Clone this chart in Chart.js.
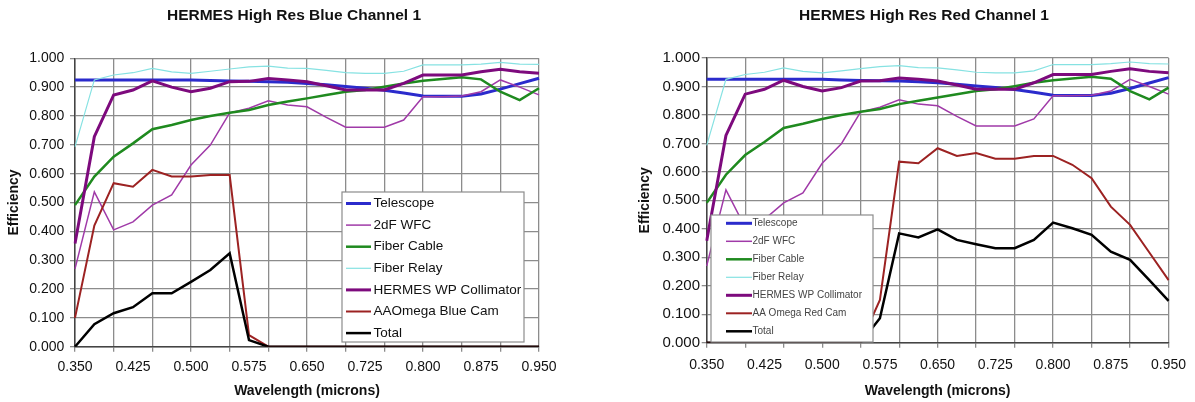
<!DOCTYPE html>
<html>
<head>
<meta charset="utf-8">
<title>HERMES High Res Channel 1</title>
<script src="https://cdn.jsdelivr.net/npm/chart.js@4.4.1/dist/chart.umd.min.js"></script>
<style>
  html, body { margin: 0; padding: 0; background: #fff; }
  #wrap { position: relative; width: 1195px; height: 402px; overflow: hidden; }
  #wrap canvas { position: absolute; top: 0; }
</style>
</head>
<body>
<div id="wrap">
  <canvas id="blueChart" width="597" height="402" style="left:0px"></canvas>
  <canvas id="redChart" width="597" height="402" style="left:598px"></canvas>
</div>
<script>
// Wavelength categories (microns), one point every 0.025
const wavelengths = ['0.350', '0.375', '0.400', '0.425', '0.450', '0.475', '0.500', '0.525', '0.550',
  '0.575', '0.600', '0.625', '0.650', '0.675', '0.700', '0.725', '0.750', '0.775', '0.800',
  '0.825', '0.850', '0.875', '0.900', '0.925', '0.950'];

// Shared optics (same in both channels)
const telescope = [0.925, 0.925, 0.925, 0.925, 0.925, 0.925, 0.925, 0.923, 0.921, 0.920, 0.919, 0.917, 0.913,
  0.908, 0.902, 0.896, 0.889, 0.880, 0.869, 0.868, 0.868, 0.876, 0.893, 0.912, 0.931];
const wfc2dF = [0.270, 0.537, 0.405, 0.433, 0.491, 0.526, 0.630, 0.699, 0.811, 0.827, 0.853, 0.838, 0.832,
  0.795, 0.761, 0.761, 0.761, 0.786, 0.867, 0.867, 0.869, 0.884, 0.925, 0.900, 0.873];
const fiberCable = [0.491, 0.590, 0.659, 0.705, 0.754, 0.769, 0.786, 0.800, 0.811, 0.821, 0.838, 0.850, 0.861,
  0.873, 0.884, 0.890, 0.901, 0.913, 0.922, 0.928, 0.934, 0.927, 0.884, 0.855, 0.896];
const fiberRelay = [0.693, 0.925, 0.942, 0.950, 0.965, 0.953, 0.948, 0.955, 0.963, 0.970, 0.973, 0.966, 0.965,
  0.958, 0.950, 0.948, 0.948, 0.955, 0.977, 0.977, 0.977, 0.980, 0.986, 0.980, 0.979];
const hermesCollimator = [0.358, 0.728, 0.873, 0.890, 0.922, 0.900, 0.884, 0.896, 0.919, 0.920, 0.930, 0.925,
  0.919, 0.905, 0.890, 0.890, 0.890, 0.913, 0.942, 0.942, 0.942, 0.953, 0.962, 0.953, 0.948];

// Blue channel camera + total
const blueCam = [0.100, 0.420, 0.567, 0.555, 0.613, 0.590, 0.590, 0.595, 0.595, 0.040, 0, 0, 0,
  0, 0, 0, 0, 0, 0, 0, 0, 0, 0, 0, 0];
const blueTotal = [0.000, 0.078, 0.116, 0.137, 0.185, 0.185, 0.225, 0.266, 0.324, 0.023, 0, 0, 0,
  0, 0, 0, 0, 0, 0, 0, 0, 0, 0, 0, 0];

// Red channel camera + total
const redCam = [0, 0, 0, 0, 0, 0, 0, 0, 0, 0.150, 0.636, 0.630, 0.683, 0.656, 0.666, 0.646, 0.646,
  0.656, 0.656, 0.625, 0.578, 0.478, 0.414, 0.317, 0.220];
const redTotal = [0, 0, 0, 0, 0, 0, 0, 0, 0, 0.086, 0.384, 0.370, 0.398, 0.361, 0.346, 0.332, 0.332,
  0.361, 0.422, 0.402, 0.379, 0.320, 0.291, 0.220, 0.147];

const FONT = 'Arial, "Liberation Sans", sans-serif';
Chart.defaults.font.family = FONT;
Chart.defaults.color = '#111';

// Title drawn at a fixed spot (Excel centres it over the whole chart object)
const fixedTitle = {
  id: 'fixedTitle',
  afterDraw(chart, args, opts) {
    const ctx = chart.ctx;
    ctx.save();
    ctx.font = 'bold ' + opts.size + 'px ' + FONT;
    ctx.fillStyle = '#111';
    ctx.textAlign = 'center';
    ctx.textBaseline = 'middle';
    ctx.fillText(opts.text, opts.x, opts.y);
    ctx.restore();
  }
};

// Legend box sitting inside the plot area
const insideLegend = {
  id: 'insideLegend',
  afterDraw(chart, args, opts) {
    const ctx = chart.ctx;
    ctx.save();
    ctx.fillStyle = '#fff';
    ctx.fillRect(opts.x, opts.y, opts.w, opts.h);
    ctx.strokeStyle = '#8c8c8c';
    ctx.lineWidth = 1.2;
    ctx.strokeRect(opts.x, opts.y, opts.w, opts.h);
    ctx.font = opts.fontSize + 'px ' + FONT;
    ctx.textBaseline = 'middle';
    chart.data.datasets.forEach((ds, i) => {
      const y = opts.firstRow + i * opts.rowGap;
      ctx.beginPath();
      ctx.strokeStyle = ds.borderColor;
      ctx.lineWidth = ds.borderWidth;
      ctx.moveTo(opts.lineX, y);
      ctx.lineTo(opts.lineX + opts.lineLen, y);
      ctx.stroke();
      ctx.fillStyle = opts.textColor;
      ctx.fillText(ds.label, opts.textX, y);
    });
    ctx.restore();
  }
};

function makeSeries(camLabel, camData, totalData) {
  const series = [
    { label: 'Telescope', data: telescope, borderColor: '#2b2bcc', borderWidth: 3 },
    { label: '2dF WFC', data: wfc2dF, borderColor: '#a03aa8', borderWidth: 1.5 },
    { label: 'Fiber Cable', data: fiberCable, borderColor: '#1f8a1f', borderWidth: 2.5 },
    { label: 'Fiber Relay', data: fiberRelay, borderColor: '#86e2e2', borderWidth: 1.2 },
    { label: 'HERMES WP Collimator', data: hermesCollimator, borderColor: '#7d0a7d', borderWidth: 3 },
    { label: camLabel, data: camData, borderColor: '#9c2222', borderWidth: 2 },
    { label: 'Total', data: totalData, borderColor: '#000', borderWidth: 2.5 }
  ];
  // later series on top, like the spreadsheet
  return series.map((s, i) => Object.assign(s, {
    order: series.length - i,
    pointRadius: 0,
    tension: 0,
    fill: false
  }));
}

function buildChart(canvasId, cfg) {
  return new Chart(document.getElementById(canvasId), {
    type: 'line',
    data: {
      labels: wavelengths,
      datasets: makeSeries(cfg.camLabel, cfg.camData, cfg.totalData)
    },
    options: {
      responsive: false,
      animation: false,
      layout: { padding: cfg.padding },
      plugins: {
        legend: { display: false },
        title: { display: false },
        tooltip: { enabled: false },
        fixedTitle: cfg.title,
        insideLegend: cfg.legend
      },
      scales: {
        x: {
          type: 'category',
          offset: false,
          afterFit: (scale) => { scale.height = cfg.xHeight; },
          grid: {
            color: (ctx) => ctx.index % 2 === 0 ? '#8c8c8c' : 'rgba(0,0,0,0)',
            lineWidth: 1.3,
            tickLength: 5
          },
          border: { color: '#444', width: 1.5 },
          ticks: {
            autoSkip: false,
            maxRotation: 0,
            padding: cfg.xTickPad,
            font: { size: 14 },
            callback: (value, index) => index % 3 === 0 ? wavelengths[index] : ''
          },
          title: {
            display: true,
            text: 'Wavelength (microns)',
            font: { size: 14, weight: 'bold' },
            color: '#111',
            padding: { top: 0, bottom: 2.9 }
          }
        },
        y: {
          min: 0,
          max: 1,
          afterFit: (scale) => { scale.width = cfg.yWidth; },
          grid: { color: '#8c8c8c', lineWidth: 1.3, tickLength: 5 },
          border: { color: '#444', width: 1.5 },
          ticks: {
            stepSize: 0.1,
            padding: cfg.yTickPad,
            font: { size: cfg.yTickSize },
            callback: (v) => v.toFixed(3)
          },
          title: {
            display: true,
            text: 'Efficiency',
            font: { size: 14, weight: 'bold' },
            color: '#111',
            padding: { top: cfg.yTitlePad, bottom: 0 }
          }
        }
      }
    },
    plugins: [fixedTitle, insideLegend]
  });
}

buildChart('blueChart', {
  camLabel: 'AAOmega Blue Cam',
  camData: blueCam,
  totalData: blueTotal,
  padding: { top: 58.3, right: 58, bottom: 0, left: 0 },
  xHeight: 55.3,
  yWidth: 75,
  xTickPad: 6.6,
  yTickPad: 5.7,
  yTickSize: 14,
  yTitlePad: 5.6,
  title: { text: 'HERMES High Res Blue Channel 1', x: 294, y: 16, size: 15.5 },
  legend: {
    x: 342, y: 192, w: 182, h: 150,
    firstRow: 203.5, rowGap: 21.6,
    lineX: 346, lineLen: 25, textX: 373.5,
    fontSize: 13.5, textColor: '#111'
  }
});

buildChart('redChart', {
  camLabel: 'AA Omega Red Cam',
  camData: redCam,
  totalData: redTotal,
  padding: { top: 58, right: 23.3, bottom: 0, left: 0 },
  xHeight: 59.3,
  yWidth: 108.7,
  xTickPad: 8.9,
  yTickPad: 1.7,
  yTickSize: 15,
  yTitlePad: 38.6,
  title: { text: 'HERMES High Res Red Channel 1', x: 326, y: 16, size: 15.5 },
  legend: {
    x: 113, y: 215, w: 162, h: 127,
    firstRow: 223.3, rowGap: 18,
    lineX: 128, lineLen: 26, textX: 154.5,
    fontSize: 10, textColor: '#444'
  }
});
</script>
</body>
</html>
